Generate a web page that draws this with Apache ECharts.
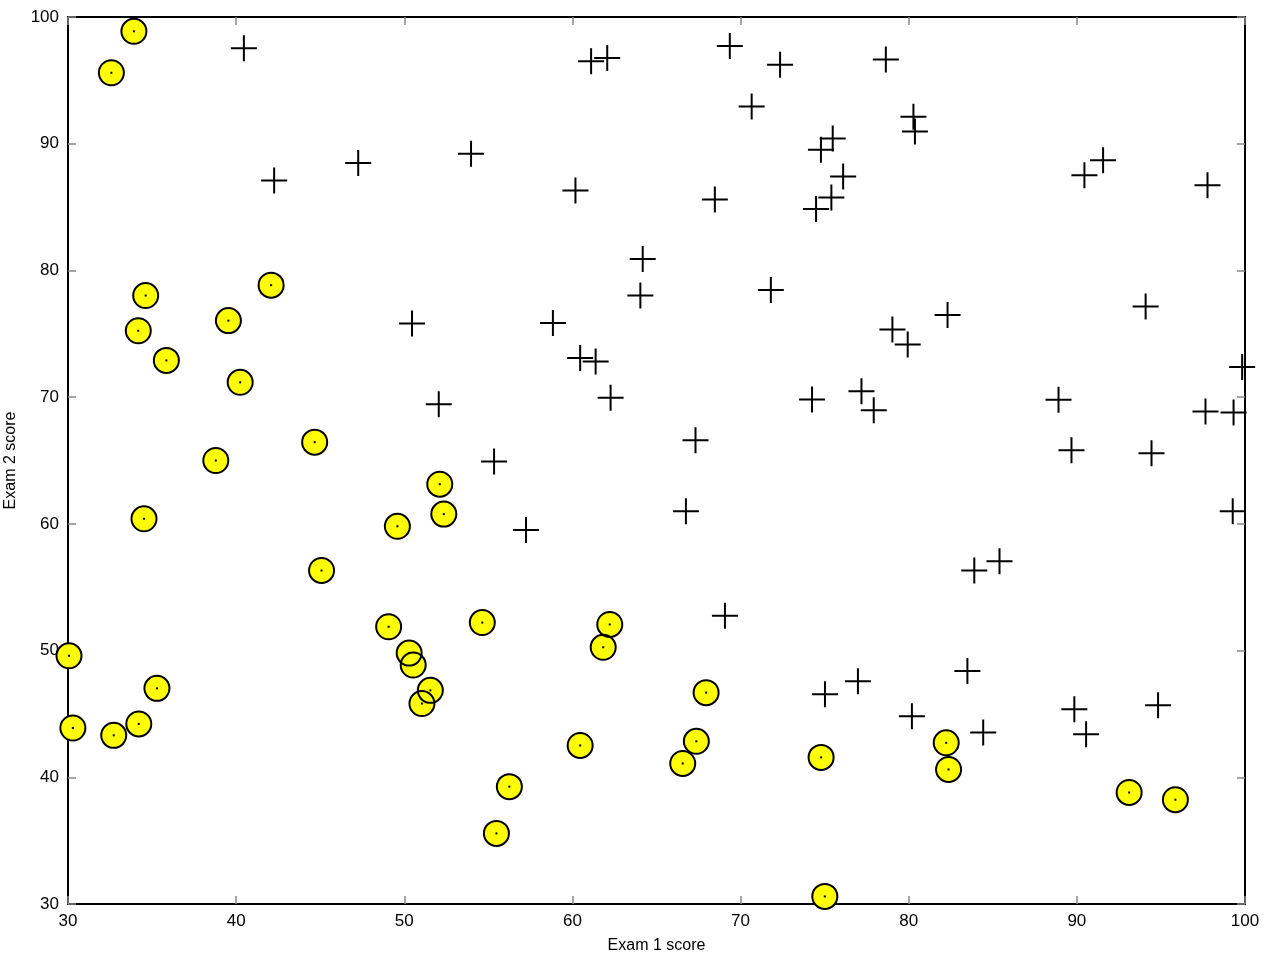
<!DOCTYPE html>
<html>
<head>
<meta charset="utf-8">
<script src="https://cdn.jsdelivr.net/npm/echarts@6/dist/echarts.min.js"></script>
<style>
  html, body { margin: 0; padding: 0; background: #fff; }
  #chart { width: 1268px; height: 954px; }
</style>
</head>
<body>
<div id="chart"></div>
<script>
// admitted (plus markers)
const admittedX = [60.18, 79.03, 61.11, 75.02, 76.10, 84.43, 82.31, 69.36, 53.97, 69.07,
  70.66, 76.98, 89.68, 77.92, 62.27, 80.19, 61.38, 85.40, 52.05, 64.18,
  83.90, 94.44, 77.19, 97.77, 62.07, 91.56, 79.94, 99.27, 90.55, 97.65,
  74.25, 71.80, 75.40, 40.46, 80.28, 66.75, 64.04, 72.35, 60.46, 58.84,
  99.83, 47.26, 50.46, 88.91, 94.83, 67.32, 57.24, 80.37, 68.47, 75.48,
  78.64, 94.09, 90.45, 74.49, 89.85, 83.49, 42.26, 99.32, 55.34, 74.78];
const admittedY = [86.31, 75.34, 96.51, 46.55, 87.42, 43.53, 76.48, 97.72, 89.21, 52.74,
  92.93, 47.58, 65.80, 68.97, 69.95, 44.82, 72.81, 57.05, 69.43, 80.91,
  56.31, 65.57, 70.46, 86.73, 96.77, 88.70, 74.16, 61.00, 43.39, 68.86,
  69.82, 78.45, 85.76, 97.54, 92.12, 60.99, 78.03, 96.23, 73.09, 75.86,
  72.37, 88.48, 75.81, 69.80, 45.69, 66.59, 59.51, 90.96, 85.59, 90.42,
  96.65, 77.16, 87.51, 84.85, 45.36, 48.38, 87.10, 68.78, 64.93, 89.53];

// not admitted (yellow circles)
const rejectedX = [34.62, 30.29, 35.85, 45.08, 95.86, 75.01, 39.54, 67.95, 67.37, 50.53,
  34.21, 93.11, 61.83, 38.79, 52.11, 40.24, 54.64, 33.92, 74.79, 34.18,
  51.55, 82.37, 51.05, 62.22, 34.52, 50.29, 49.59, 32.58, 35.29, 56.25,
  30.06, 44.67, 66.56, 49.07, 32.72, 60.46, 82.23, 42.08, 52.35, 55.48];
const rejectedY = [78.02, 43.89, 72.90, 56.32, 38.23, 30.60, 76.04, 46.68, 42.84, 48.86,
  44.21, 38.80, 50.26, 65.00, 63.13, 71.17, 52.21, 98.87, 41.57, 75.24,
  46.86, 40.62, 45.82, 52.06, 60.40, 49.80, 59.81, 95.60, 47.02, 39.26,
  49.59, 66.45, 41.09, 51.88, 43.31, 42.51, 42.72, 78.84, 60.77, 35.57];

const xTicks = [30, 40, 50, 60, 70, 80, 90, 100];
const yTicks = [30, 40, 50, 60, 70, 80, 90, 100];

const admitted = admittedX.map((x, i) => [x, admittedY[i]]);
const rejected = rejectedX.map((x, i) => [x, rejectedY[i]]);

const FONT = "'Liberation Sans', Arial, sans-serif";
// plus marker, 26 units wide with a ~2 unit stroke
const plusPath = "path://M12,0 H14 V12 H26 V14 H14 V26 H12 V14 H0 V12 H12 Z";

const tickStyle = { show: true, inside: true, length: 8, lineStyle: { color: "#888", width: 1.5 } };
const lineStyle = { show: true, onZero: false, lineStyle: { color: "#000", width: 2 } };

function valueAxis(ticks, extra) {
  return Object.assign({
    type: "value",
    min: ticks[0],
    max: ticks[ticks.length - 1],
    interval: ticks[1] - ticks[0],
    splitLine: { show: false },
    axisLine: lineStyle,
    axisTick: tickStyle,
  }, extra);
}

function scatter(data, symbol, size, itemStyle, z) {
  return {
    type: "scatter",
    data: data,
    clip: false,
    symbol: symbol,
    symbolSize: size,
    itemStyle: Object.assign({ opacity: 1 }, itemStyle),
    emphasis: { disabled: true },
    z: z,
  };
}

const chart = echarts.init(document.getElementById("chart"));

chart.setOption({
  animation: false,
  backgroundColor: "#fff",
  grid: { left: 68, right: 23, top: 17, bottom: 50, containLabel: false, outerBoundsMode: "none" },
  xAxis: [
    valueAxis(xTicks, {
      position: "bottom",
      name: "Exam 1 score",
      nameLocation: "middle",
      nameGap: 34,
      nameTextStyle: { fontFamily: FONT, fontSize: 16, color: "#000" },
      axisLabel: { fontFamily: FONT, fontSize: 17, color: "#000", margin: 9 },
    }),
    valueAxis(xTicks, { position: "top", axisLabel: { show: false } }),
  ],
  yAxis: [
    valueAxis(yTicks, {
      position: "left",
      name: "Exam 2 score",
      nameLocation: "middle",
      nameGap: 49,
      nameTextStyle: { fontFamily: FONT, fontSize: 16, color: "#000" },
      axisLabel: { fontFamily: FONT, fontSize: 17, color: "#000", margin: 9 },
    }),
    valueAxis(yTicks, { position: "right", axisLabel: { show: false } }),
  ],
  series: [
    scatter(admitted, plusPath, 26, { color: "#000" }, 3),
    scatter(rejected, "circle", 25, { color: "#ffff00" }, 4),
    scatter(rejected, "circle", 25, { color: "rgba(0,0,0,0)", borderColor: "#000", borderWidth: 2 }, 5),
    scatter(rejected, "rect", 2, { color: "#000" }, 6),
  ],
});
</script>
</body>
</html>
